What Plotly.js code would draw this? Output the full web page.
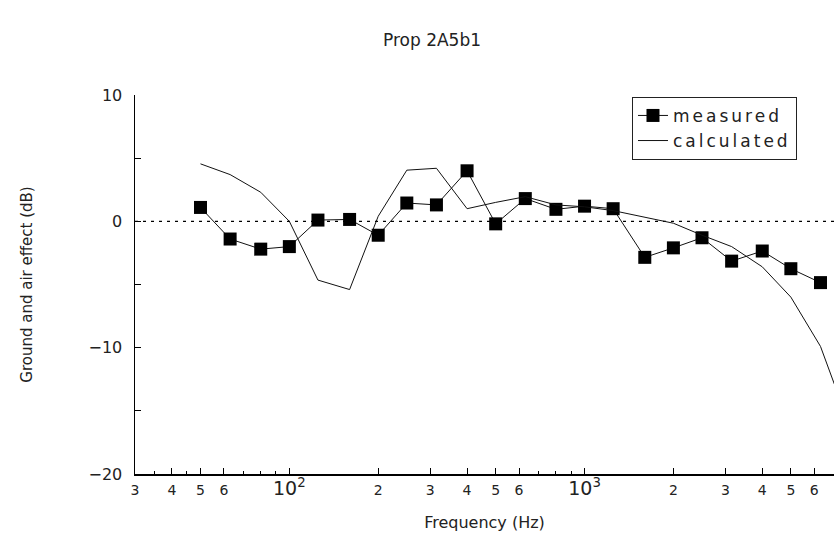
<!DOCTYPE html>
<html>
<head>
<meta charset="utf-8">
<script src="https://cdn.plot.ly/plotly-3.0.1.min.js"></script>
<style>html,body{margin:0;padding:0;background:#fff;}#chart{width:834px;height:534px;}</style>
</head>
<body>
<div id="chart"></div>
<script>
// Third-octave band centre frequencies (Hz)
var measuredFreq = [50, 63, 80, 100, 125, 160, 200, 250, 315, 400, 500, 630, 800, 1000, 1250, 1600, 2000, 2500, 3150, 4000, 5000, 6300];
var measuredDb = [1.1, -1.4, -2.2, -2.0, 0.1, 0.15, -1.1, 1.45, 1.3, 4.0, -0.2, 1.8, 0.95, 1.2, 1.0, -2.85, -2.1, -1.3, -3.15, -2.35, -3.75, -4.85];

var calculatedFreq = [50, 63, 80, 100, 125, 160, 200, 250, 315, 400, 500, 630, 800, 1000, 1250, 1600, 2000, 2500, 3150, 4000, 5000, 6300, 8000];
var calculatedDb = [4.55, 3.7, 2.3, 0.0, -4.65, -5.4, 0.4, 4.05, 4.2, 1.0, 1.5, 1.95, 1.3, 1.15, 0.85, 0.35, -0.15, -1.1, -2.0, -3.6, -6.0, -9.9, -16.5];

var xTickVals = [30, 40, 50, 60, 100, 200, 300, 400, 500, 600, 1000, 2000, 3000, 4000, 5000, 6000];
var xTickText = ['3', '4', '5', '6',
  '<span style="font-size:19px">10<sup>2</sup></span>',
  '2', '3', '4', '5', '6',
  '<span style="font-size:19px">10<sup>3</sup></span>',
  '2', '3', '4', '5', '6'];
var xMinorVals = [35, 45, 70, 80, 90, 700, 800, 900];

var yTickVals = [-20, -10, 0, 10];
var yTickText = ['\u221220', '\u221210', '0', '10'];

var seriesNames = ['measured', 'calculated'];

var FONT = 'DejaVu Sans, Liberation Sans, sans-serif';
var TXT = '#222';

function spaced(s) { return '<span style="letter-spacing:3px">' + s + '</span>'; }

var traces = [
  {
    x: measuredFreq, y: measuredDb, name: spaced(seriesNames[0]),
    type: 'scatter', mode: 'lines+markers',
    line: {color: '#111', width: 1},
    marker: {symbol: 'square', size: 13, color: '#000'}
  },
  {
    x: calculatedFreq, y: calculatedDb, name: spaced(seriesNames[1]),
    type: 'scatter', mode: 'lines',
    line: {color: '#111', width: 1}
  }
];

var layout = {
  width: 834, height: 534,
  paper_bgcolor: '#fff', plot_bgcolor: '#fff',
  margin: {l: 135, r: 0, t: 95, b: 60},
  font: {family: FONT, color: TXT, size: 15},
  title: {text: 'Prop 2A5b1', x: 0.518, xanchor: 'center', y: 0.925, yanchor: 'middle',
          font: {family: FONT, size: 17, color: TXT}},
  showlegend: true,
  legend: {
    x: 0.711, xanchor: 'left', y: 0.995, yanchor: 'top',
    bordercolor: '#222', borderwidth: 1, bgcolor: '#fff',
    font: {family: FONT, size: 17, color: TXT},
    tracegroupgap: 0, itemwidth: 30
  },
  xaxis: {
    type: 'log',
    range: [Math.log10(30), Math.log10(7000)],
    showgrid: false, zeroline: false,
    showline: true, linecolor: '#000', linewidth: 1.5,
    ticks: 'inside', ticklen: 6, tickcolor: '#000', tickwidth: 1,
    tickmode: 'array', tickvals: xTickVals, ticktext: xTickText,
    tickfont: {family: FONT, size: 14, color: TXT},
    ticklabelstandoff: 3,
    minor: {tickmode: 'array', tickvals: xMinorVals, ticks: 'inside', ticklen: 3, tickcolor: '#000', showgrid: false},
    title: {text: 'Frequency (Hz)', font: {family: FONT, size: 16, color: TXT}, standoff: 18},
    automargin: false
  },
  yaxis: {
    range: [-20, 10],
    showgrid: false, zeroline: false,
    showline: true, linecolor: '#000', linewidth: 1.5,
    ticks: 'inside', ticklen: 6, tickcolor: '#000', tickwidth: 1,
    tickmode: 'array', tickvals: yTickVals, ticktext: yTickText,
    tickfont: {family: FONT, size: 16, color: TXT},
    ticklabelstandoff: 8,
    minor: {dtick: 5, ticks: 'inside', ticklen: 6, tickcolor: '#000', showgrid: false},
    title: {text: 'Ground and air effect (dB)', font: {family: FONT, size: 15, color: TXT}, standoff: 52},
    automargin: false
  },
  shapes: [
    {type: 'line', xref: 'paper', x0: 0, x1: 1, yref: 'y', y0: 0, y1: 0,
     line: {color: '#000', width: 1.2, dash: '3px,5px'}, layer: 'below'}
  ]
};

Plotly.newPlot('chart', traces, layout, {displayModeBar: false, staticPlot: true});
</script>
</body>
</html>
